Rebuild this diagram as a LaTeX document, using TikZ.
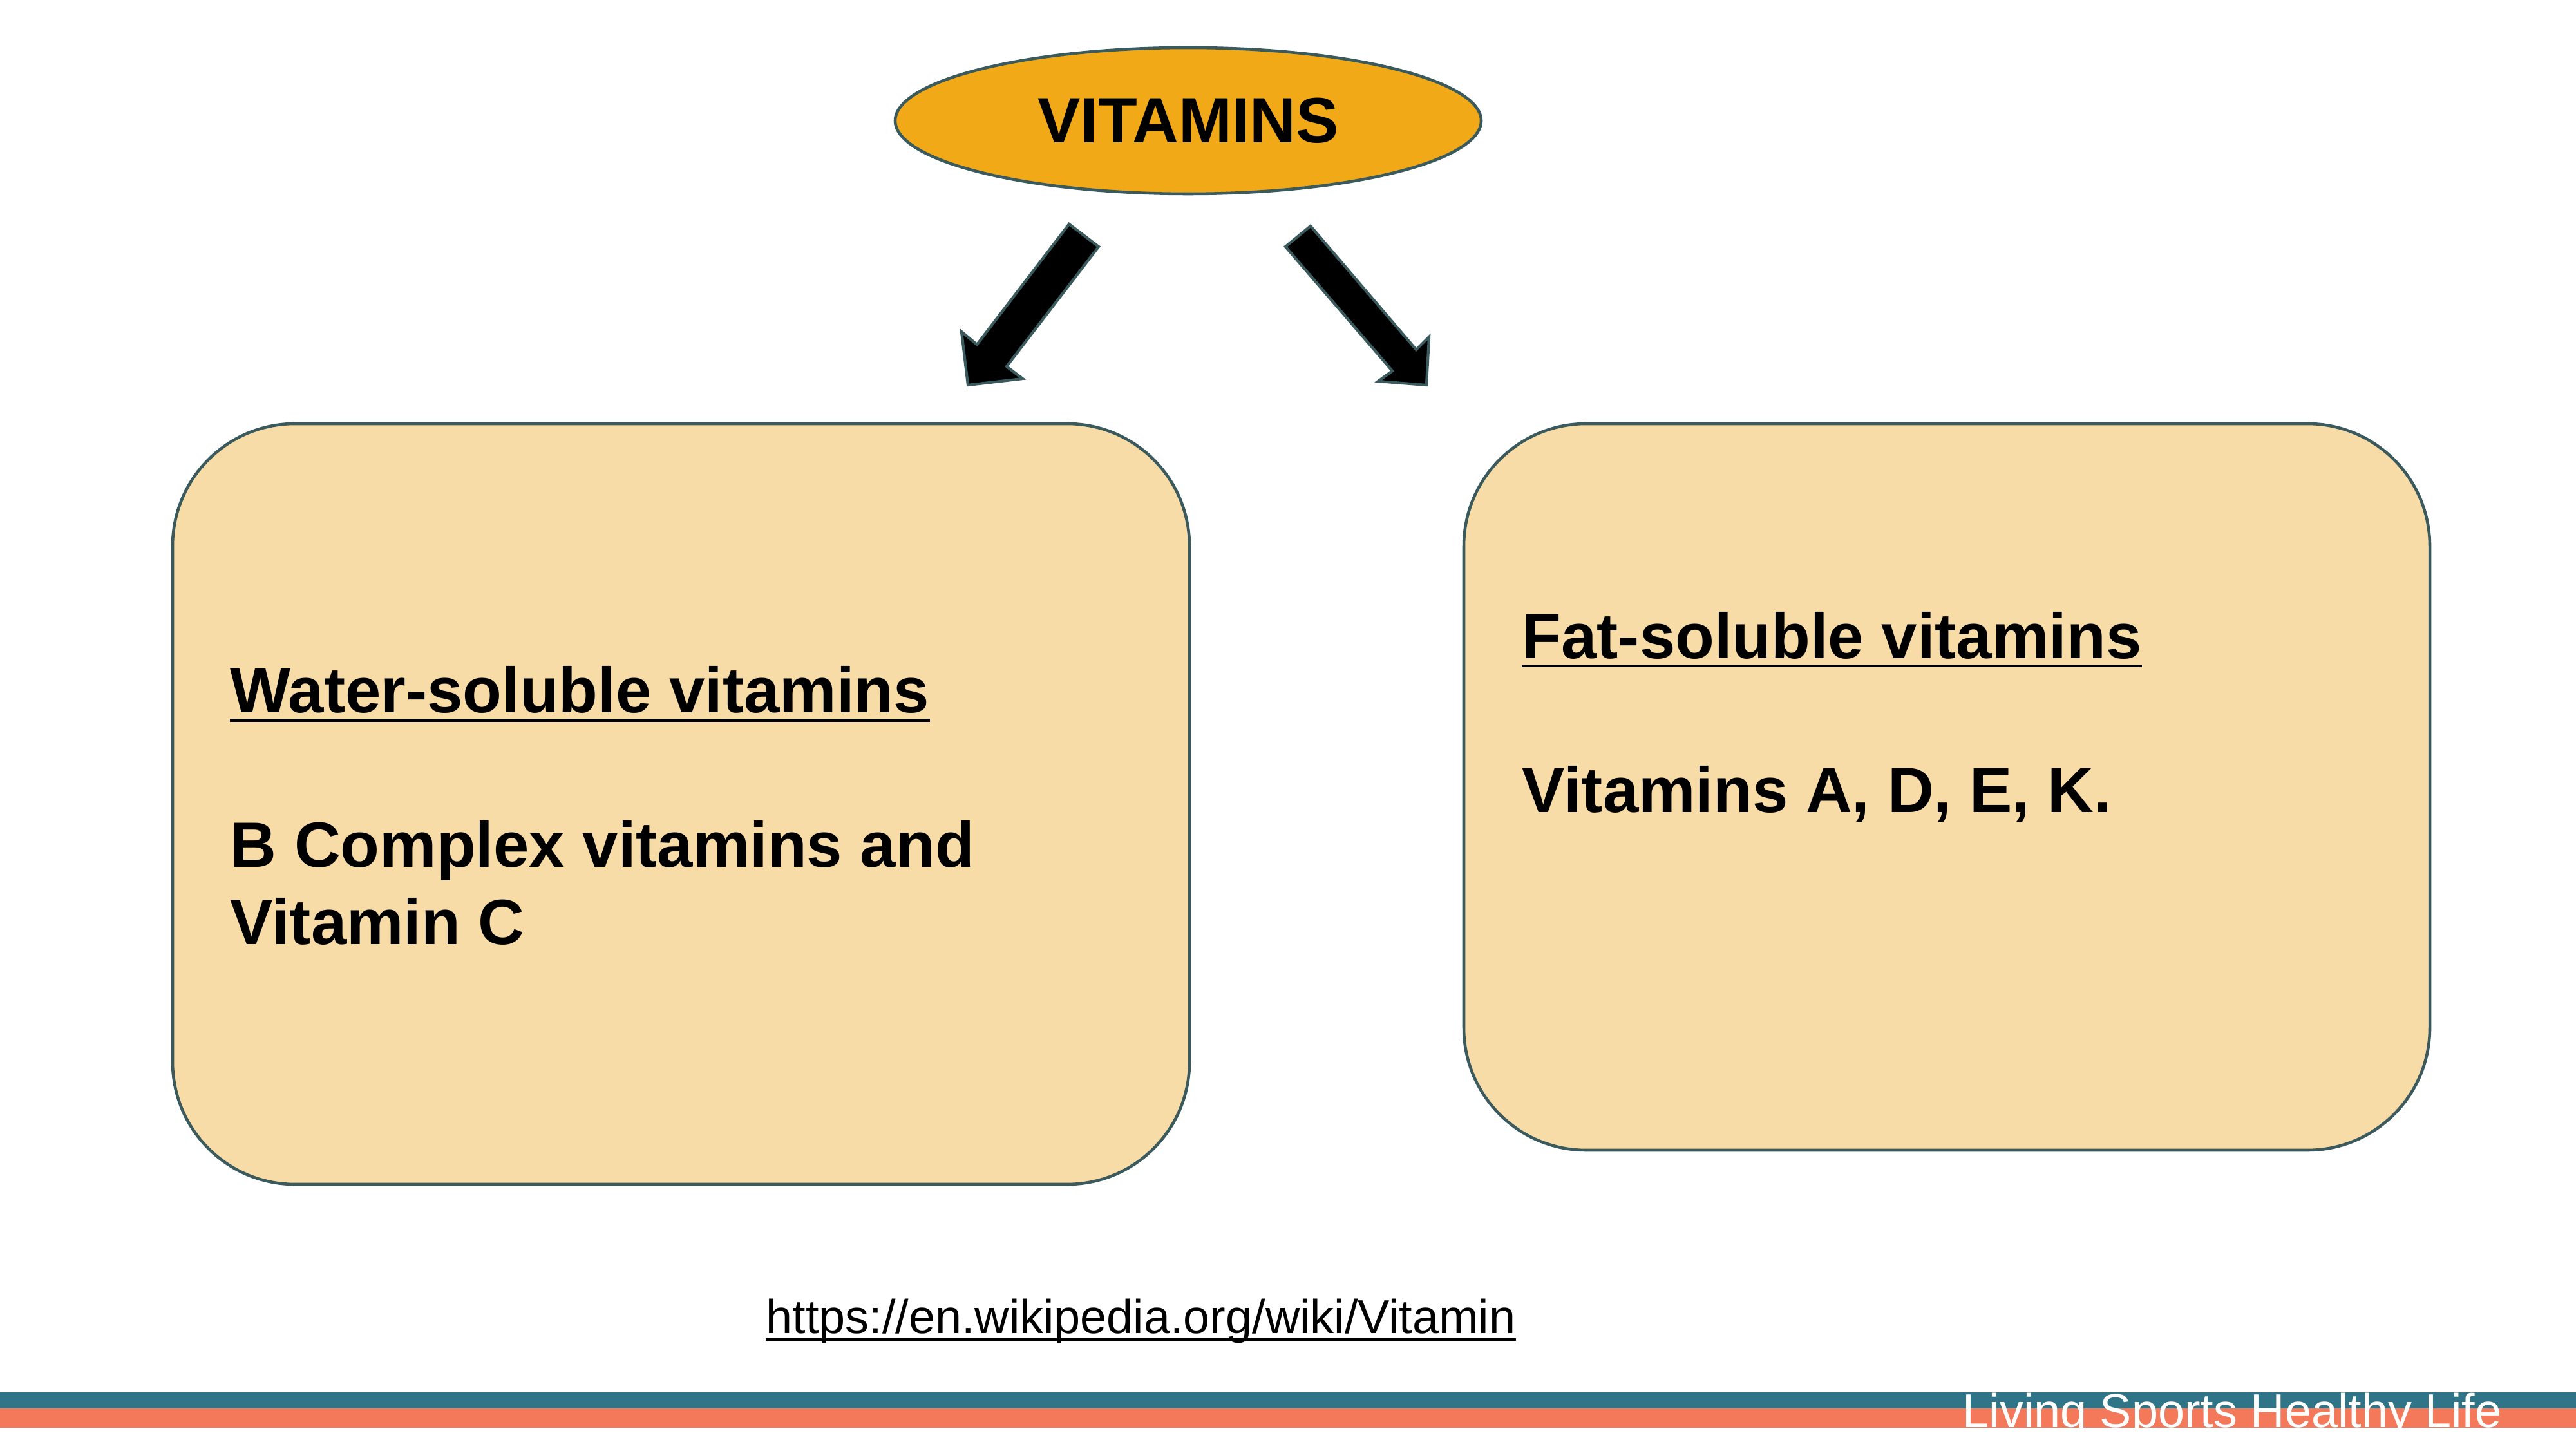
\documentclass[tikz,border=0pt]{standalone}
\usepackage{fontspec}
\setmainfont{Liberation Sans}
\usetikzlibrary{shapes.geometric}
\definecolor{gold}{HTML}{F2A918}
\definecolor{sand}{HTML}{F7DCA7}
\definecolor{slate}{HTML}{3B5A5E}
\definecolor{teal}{HTML}{2F7587}
\definecolor{coral}{HTML}{F4795B}
\begin{document}
\begin{tikzpicture}[
    box/.style={draw=slate,line width=1.3pt,fill=sand,rounded corners=1.9cm},
    bigtxt/.style={inner sep=0,anchor=base west,font=\fontsize{28.3}{34}\selectfont\bfseries},
    smalltxt/.style={inner sep=0,anchor=base west,font=\fontsize{21}{25}\selectfont},
    blockarrow/.style={draw=slate,line width=1.2pt,fill=black,line join=miter}]
  \fill[white] (0,0) rectangle (40,-22.5);
  \useasboundingbox (0,0) rectangle (40,-22.5);
  % Title
  \node[ellipse,draw=slate,line width=1.3pt,fill=gold,minimum width=9.1cm,minimum height=2.27cm,
        font=\fontsize{28.3}{34}\selectfont\bfseries] (vit) at (18.45,-1.875) {VITAMINS};
  % Arrows
  \draw[blockarrow] (16.60,-3.48) -- (17.06,-3.83) -- (15.63,-5.69) -- (15.88,-5.88)
    -- (15.03,-5.98) -- (14.93,-5.15) -- (15.17,-5.35) -- cycle;
  \draw[blockarrow] (20.35,-3.51) -- (19.96,-3.83) -- (21.62,-5.76) -- (21.40,-5.92)
    -- (22.15,-5.98) -- (22.19,-5.23) -- (21.99,-5.43) -- cycle;
  % Boxes
  \node[box,minimum width=15.79cm,minimum height=11.81cm] (water) at (10.575,-12.485) {};
  \node[box,minimum width=15.0cm,minimum height=11.28cm] (fat) at (30.23,-12.22) {};
  \node[bigtxt] (wtitle) at (3.57,-11.07) {Water-soluble vitamins};
  \draw[line width=0.045cm] ([yshift=-0.115cm]wtitle.base west) -- ([yshift=-0.115cm]wtitle.base east);
  \node[bigtxt] (wline1) at (3.57,-13.47) {B Complex vitamins and};
  \node[bigtxt] (wline2) at (3.57,-14.67) {Vitamin C};
  \node[bigtxt] (ftitle) at (23.63,-10.23) {Fat-soluble vitamins};
  \draw[line width=0.045cm] ([yshift=-0.11cm]ftitle.base west) -- ([yshift=-0.11cm]ftitle.base east);
  \node[bigtxt] (fline) at (23.63,-12.62) {Vitamins A, D, E, K.};
  % Source
  \node[smalltxt] (src) at (11.89,-20.70) {https://en.wikipedia.org/wiki/Vitamin};
  \draw[line width=0.04cm] ([yshift=-0.10cm]src.base west) -- ([yshift=-0.10cm]src.base east);
  % Footer
  \fill[teal] (0,-21.62) rectangle (40,-21.87);
  \fill[coral] (0,-21.87) rectangle (40,-22.17);
  \begin{scope}
    \clip (0,-21.62) rectangle (40,-22.17);
    \node[smalltxt,text=white] (foot) at (30.47,-22.16) {Living Sports Healthy Life};
  \end{scope}
\end{tikzpicture}
\end{document}
